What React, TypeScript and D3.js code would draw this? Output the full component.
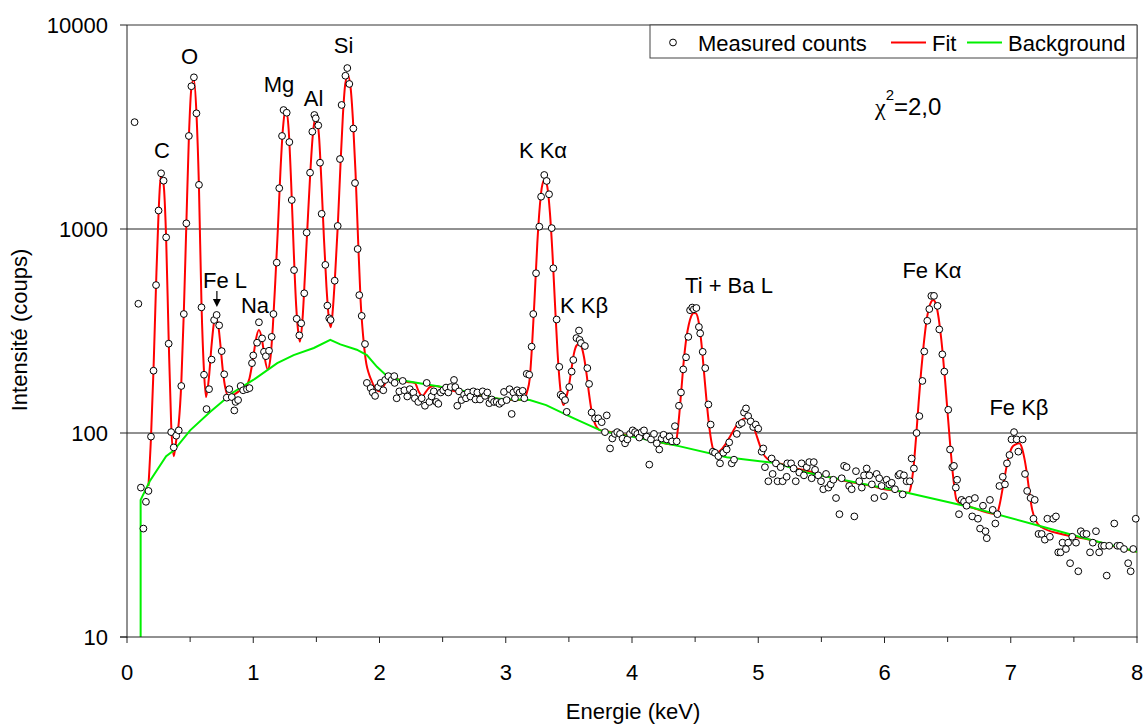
import React from "react";
import * as d3 from "d3";

// Measured counts: [energy keV, counts]
const measured: [number, number][] = [
  [0.06,3340],[0.09,430],[0.11,54],[0.13,34],[0.15,46],[0.17,52],[0.19,96],[0.21,202],[0.23,531],[0.25,1232],
  [0.27,1875],[0.29,1725],[0.31,910],[0.33,274],[0.35,101],[0.37,85],[0.39,97],[0.41,103],[0.43,170],[0.45,383],
  [0.47,1066],[0.49,2858],[0.51,5010],[0.53,5540],[0.55,3690],[0.57,1646],[0.59,413],[0.61,193],[0.63,131],[0.65,164],
  [0.67,229],[0.69,358],[0.71,379],[0.73,337],[0.75,252],[0.77,194],[0.79,149],[0.81,164],[0.83,150],[0.85,129],
  [0.86,142],[0.88,145],[0.90,170],[0.92,162],[0.95,164],[0.97,166],[0.99,220],[1.00,240],[1.03,277],[1.045,349],
  [1.07,291],[1.085,250],[1.10,238],[1.125,253],[1.146,296],[1.16,383],[1.186,684],[1.206,1585],[1.228,2858],[1.24,3830],
  [1.265,3715],[1.286,2667],[1.305,1387],[1.323,629],[1.344,363],[1.365,301],[1.38,345],[1.404,484],[1.423,960],[1.45,1888],
  [1.468,2999],[1.484,3622],[1.495,3490],[1.515,3220],[1.529,2113],[1.542,1187],[1.571,667],[1.587,421],[1.602,365],[1.613,358],
  [1.645,558],[1.669,1035],[1.687,2203],[1.70,4055],[1.73,5640],[1.745,6150],[1.761,5140],[1.793,3108],[1.806,1680],[1.827,798],
  [1.84,474],[1.859,375],[1.885,273],[1.90,176],[1.93,166],[1.946,158],[1.965,152],[1.99,168],[2.01,176],[2.03,162],
  [2.045,182],[2.07,190],[2.097,182],[2.117,190],[2.12,176],[2.136,148],[2.157,160],[2.184,180],[2.197,162],[2.22,151],
  [2.24,164],[2.268,158],[2.28,148],[2.307,142],[2.334,148],[2.36,136],[2.374,176],[2.395,142],[2.413,151],[2.43,160],
  [2.45,142],[2.466,139],[2.485,158],[2.505,162],[2.527,167],[2.545,158],[2.564,168],[2.59,182],[2.60,168],[2.616,136],
  [2.63,160],[2.65,145],[2.67,154],[2.685,148],[2.70,158],[2.72,151],[2.743,160],[2.76,146],[2.775,158],[2.796,146],
  [2.817,160],[2.836,152],[2.854,158],[2.87,140],[2.889,146],[2.907,142],[2.928,142],[2.95,139],[2.968,142],[2.986,159],
  [3.007,145],[3.03,164],[3.047,124],[3.06,158],[3.073,148],[3.09,162],[3.11,158],[3.134,161],[3.147,148],[3.166,195],
  [3.186,193],[3.205,265],[3.218,383],[3.24,607],[3.266,1027],[3.28,1440],[3.305,1840],[3.324,1720],[3.343,1480],[3.364,1010],
  [3.377,642],[3.403,360],[3.424,211],[3.435,154],[3.45,151],[3.47,145],[3.483,127],[3.503,168],[3.522,200],[3.535,228],
  [3.56,292],[3.58,318],[3.585,286],[3.596,276],[3.627,267],[3.646,208],[3.66,174],[3.68,126],[3.707,118],[3.733,118],
  [3.76,113],[3.786,101],[3.80,122],[3.826,84],[3.844,94],[3.865,99],[3.883,101],[3.905,99],[3.926,94],[3.945,89],
  [3.963,93],[3.984,99],[4.005,103],[4.024,101],[4.042,99],[4.058,95],[4.077,101],[4.095,103],[4.116,96],[4.137,70],
  [4.15,93],[4.174,99],[4.196,89],[4.216,83],[4.235,94],[4.25,98],[4.275,93],[4.296,96],[4.317,91],[4.34,108],
  [4.354,91],[4.372,136],[4.388,158],[4.406,205],[4.428,235],[4.446,296],[4.46,400],[4.477,412],[4.49,404],[4.51,410],
  [4.53,331],[4.54,308],[4.56,250],[4.58,208],[4.605,138],[4.623,110],[4.64,81],[4.657,80],[4.684,77],[4.697,71],
  [4.723,80],[4.75,83],[4.77,90],[4.79,71],[4.808,74],[4.83,99],[4.85,110],[4.87,112],[4.887,126],[4.903,132],
  [4.92,121],[4.94,114],[4.96,107],[4.98,110],[5.00,105],[5.027,81],[5.04,84],[5.053,68],[5.08,58],[5.106,75],
  [5.114,63],[5.14,71],[5.153,58],[5.177,68],[5.193,58],[5.225,61],[5.23,71],[5.26,71],[5.28,67],[5.297,58],
  [5.325,64],[5.343,71],[5.362,62],[5.384,68],[5.404,72],[5.423,60],[5.44,72],[5.45,66],[5.475,62],[5.497,58],
  [5.515,53],[5.537,63],[5.556,54],[5.574,56],[5.595,59],[5.616,48],[5.643,40],[5.661,60],[5.68,69],[5.70,68],
  [5.72,55],[5.74,53],[5.761,39],[5.774,65],[5.80,58],[5.82,54],[5.838,62],[5.859,67],[5.88,62],[5.90,56],
  [5.92,48],[5.938,63],[5.958,60],[5.977,55],[5.996,49],[6.017,59],[6.038,56],[6.057,57],[6.083,53],[6.11,62],
  [6.122,63],[6.144,50],[6.154,62],[6.175,58],[6.20,58],[6.215,75],[6.233,67],[6.254,100],[6.276,121],[6.30,180],
  [6.315,251],[6.339,355],[6.355,405],[6.371,470],[6.392,470],[6.42,420],[6.434,322],[6.458,243],[6.474,200],[6.505,130],
  [6.519,83],[6.537,68],[6.55,69],[6.565,54],[6.575,59],[6.59,40],[6.61,47],[6.63,46],[6.65,44],[6.67,47],
  [6.695,39],[6.716,48],[6.74,38],[6.757,34],[6.78,44],[6.80,33],[6.81,30.5],[6.835,47],[6.857,42],[6.878,36],
  [6.894,40],[6.91,55],[6.937,61],[6.954,56],[6.97,71],[6.99,78],[7.006,93],[7.026,101],[7.047,93],[7.06,81],
  [7.094,93],[7.113,63],[7.13,52],[7.157,48],[7.18,38],[7.19,47],[7.22,32],[7.245,32],[7.27,30],[7.29,38],
  [7.31,31],[7.337,38],[7.358,39],[7.376,26],[7.395,26],[7.41,29],[7.437,27],[7.455,29],[7.47,23],[7.487,31],
  [7.517,29],[7.535,21],[7.555,33],[7.575,32],[7.60,32],[7.628,26],[7.65,29],[7.675,33],[7.70,26],[7.72,28],
  [7.74,28],[7.76,20],[7.78,28],[7.82,36],[7.845,28],[7.865,28],[7.897,27],[7.93,23],[7.95,21],[7.97,27],
  [7.99,38],
];

// Fitted spectrum: [energy keV, counts]
const fitCurve: [number, number][] = [
  [0.17,55],[0.19,95],[0.21,205],[0.23,530],[0.25,1200],[0.27,1830],[0.29,1650],[0.31,900],[0.33,290],[0.35,110],
  [0.37,77],[0.39,92],[0.41,112],[0.43,175],[0.45,390],[0.47,1050],[0.49,2800],[0.51,4900],[0.53,5400],[0.55,3700],
  [0.57,1600],[0.59,430],[0.61,200],[0.626,150],[0.65,190],[0.67,270],[0.69,350],[0.70,365],[0.72,345],[0.74,270],
  [0.76,200],[0.78,165],[0.80,152],[0.83,152],[0.86,156],[0.90,162],[0.94,168],[0.97,185],[1.00,235],[1.02,285],
  [1.045,320],[1.07,285],[1.09,235],[1.115,205],[1.135,230],[1.155,330],[1.175,560],[1.195,1000],[1.215,1900],[1.235,3100],
  [1.25,3700],[1.265,3750],[1.28,3100],[1.30,1700],[1.32,800],[1.34,420],[1.36,300],[1.37,280],[1.39,360],[1.41,600],
  [1.43,1050],[1.45,1800],[1.47,2800],[1.49,3450],[1.50,3500],[1.52,2900],[1.54,1700],[1.56,900],[1.58,520],[1.60,360],
  [1.615,330],[1.63,400],[1.65,620],[1.67,1050],[1.69,2000],[1.71,3600],[1.73,5200],[1.75,5650],[1.77,5000],[1.79,3400],
  [1.81,1900],[1.83,900],[1.85,450],[1.87,300],[1.89,230],[1.93,185],[1.97,165],[2.00,160],[2.03,168],[2.06,182],
  [2.09,188],[2.15,183],[2.22,178],[2.28,176],[2.31,160],[2.34,152],[2.37,160],[2.40,168],[2.44,170],[2.50,167],
  [2.55,163],[2.60,160],[2.65,157],[2.70,160],[2.80,153],[2.90,148],[3.00,146],[3.10,145],[3.15,148],[3.17,160],
  [3.19,185],[3.21,280],[3.23,480],[3.25,850],[3.27,1300],[3.29,1650],[3.31,1750],[3.33,1600],[3.35,1200],[3.37,760],
  [3.39,430],[3.41,250],[3.43,170],[3.457,137],[3.48,150],[3.50,170],[3.52,205],[3.54,245],[3.56,268],[3.583,275],
  [3.60,265],[3.62,235],[3.64,195],[3.66,155],[3.68,128],[3.70,114],[3.72,107],[3.75,103],[3.80,102],[3.90,99],
  [4.00,97],[4.10,94],[4.20,91],[4.30,88],[4.35,92],[4.37,115],[4.39,160],[4.41,225],[4.43,290],[4.45,340],
  [4.47,375],[4.49,388],[4.507,386],[4.53,345],[4.55,275],[4.57,200],[4.59,145],[4.61,110],[4.63,90],[4.65,81],
  [4.67,80],[4.70,82],[4.74,88],[4.78,97],[4.82,107],[4.86,115],[4.90,118],[4.92,118],[4.95,112],[4.98,100],
  [5.01,88],[5.04,79],[5.07,75],[5.10,73],[5.20,70],[5.30,67],[5.40,65],[5.50,62],[5.60,60],[5.70,58],
  [5.80,56.5],[5.90,55],[6.00,53],[6.10,52],[6.19,51],[6.21,55],[6.23,68],[6.25,95],[6.27,140],[6.29,200],
  [6.31,270],[6.33,345],[6.35,405],[6.37,440],[6.386,449],[6.40,440],[6.42,395],[6.44,325],[6.46,250],[6.48,180],
  [6.50,125],[6.52,88],[6.545,60],[6.57,47],[6.60,45],[6.70,43],[6.80,41],[6.889,40],[6.91,44],[6.93,51],
  [6.95,60],[6.97,70],[6.99,79],[7.01,85],[7.04,88],[7.067,89],[7.09,84],[7.11,74],[7.13,62],[7.15,50],
  [7.17,42],[7.20,37],[7.245,34.5],[7.40,32],[7.628,30],[7.80,28],[8.02,26],
];

// Background: [energy keV, counts]
const background: [number, number][] = [
  [0.108,10],[0.108,47],[0.18,58],[0.31,77],[0.37,82],[0.50,103],[0.66,127],[0.84,158],[1.00,182],[1.19,220],
  [1.32,241],[1.48,261],[1.61,286],[1.69,272],[1.82,256],[1.90,241],[1.98,211],[2.06,190],[2.16,182],[2.45,170],
  [2.69,160],[2.95,147],[3.19,145],[3.32,137],[3.54,118],[3.75,103],[4.38,86],[4.75,76],[5.15,71],[5.38,64],
  [6.18,51],[6.70,43],[7.23,35],[7.63,30],[8.02,26],
];

const xTicks = [0, 1, 2, 3, 4, 5, 6, 7, 8];
const xMinorTicks = [0.5, 1.5, 2.5, 3.5, 4.5, 5.5, 6.5, 7.5];
const yTicks = [10, 100, 1000, 10000];
const yGrid = [100, 1000];

// peak annotations: label, energy (centre), counts at text baseline
const peakLabels: { text: string; e: number; v: number }[] = [
  { text: "C", e: 0.277, v: 2230 },
  { text: "O", e: 0.495, v: 6440 },
  { text: "Mg", e: 1.204, v: 4700 },
  { text: "Al", e: 1.478, v: 4010 },
  { text: "Si", e: 1.715, v: 7300 },
  { text: "Fe L", e: 0.776, v: 514 },
  { text: "Na", e: 1.014, v: 387 },
  { text: "K Kα", e: 3.295, v: 2230 },
  { text: "K Kβ", e: 3.62, v: 387 },
  { text: "Ti + Ba L", e: 4.768, v: 485 },
  { text: "Fe Kα", e: 6.376, v: 575 },
  { text: "Fe Kβ", e: 7.065, v: 122 },
];
const feLArrow = { e: 0.712, tip: 415 };

const FONT = "'Liberation Sans', Arial, sans-serif";

export default function App() {
  const W = 1146, H = 725;
  const left = 127, right = 1137, top = 25, bottom = 637;
  const x = d3.scaleLinear().domain([0, 8]).range([left, right]);
  const y = d3.scaleLog().domain([10, 10000]).range([bottom, top]);

  const fitLine = d3.line<[number, number]>()
    .x((d) => x(d[0]))
    .y((d) => y(d[1]))
    .curve(d3.curveMonotoneX);
  const bgLine = d3.line<[number, number]>()
    .x((d) => x(d[0]))
    .y((d) => y(d[1]));

  const ax = x(feLArrow.e);
  const at = y(feLArrow.tip);

  return (
    <svg width={W} height={H} style={{ position: "absolute", left: 0, top: 0, background: "#fff" }} fontFamily={FONT}>
      <defs>
        <clipPath id="plotClip">
          <rect x={left} y={top - 5} width={right - left} height={bottom - top + 5} />
        </clipPath>
      </defs>
      <rect x={0} y={0} width={W} height={H} fill="#fff" />

      {/* grid lines and frame */}
      {yGrid.map((v) => (
        <line key={v} x1={left} x2={right} y1={y(v)} y2={y(v)} stroke="#222" strokeWidth={1} />
      ))}
      <line x1={left} x2={right} y1={top} y2={top} stroke="#333" strokeWidth={1} />
      <line x1={right} x2={right} y1={top} y2={bottom} stroke="#666" strokeWidth={1.3} />

      {/* curves */}
      <g clipPath="url(#plotClip)">
        <path d={fitLine(fitCurve) || ""} fill="none" stroke="#ff0000" strokeWidth={2} />
        <path d={bgLine(background) || ""} fill="none" stroke="#00f000" strokeWidth={2} />
      </g>

      {/* measured points */}
      <g>
        {measured.map((d, i) => (
          <circle key={i} cx={x(d[0])} cy={y(d[1])} r={3.4} fill="#fff" stroke="#000" strokeWidth={1} />
        ))}
      </g>

      {/* axes */}
      <line x1={left} x2={left} y1={top} y2={bottom + 0.5} stroke="#222" strokeWidth={1} />
      <line x1={left - 7} x2={right + 0.5} y1={bottom} y2={bottom} stroke="#222" strokeWidth={1} />
      {yTicks.map((v) => (
        <g key={v}>
          <line x1={left - 7} x2={left} y1={y(v)} y2={y(v)} stroke="#222" />
          <text x={108} y={y(v)} dy="0.36em" textAnchor="end" fontSize={22} fill="#000">{v}</text>
        </g>
      ))}
      {xTicks.map((v) => (
        <g key={v}>
          <line x1={x(v)} x2={x(v)} y1={bottom} y2={bottom + 6} stroke="#222" />
          <text x={x(v)} y={680} textAnchor="middle" fontSize={22} fill="#000">{v}</text>
        </g>
      ))}
      {xMinorTicks.map((v) => (
        <line key={v} x1={x(v)} x2={x(v)} y1={bottom} y2={bottom + 5} stroke="#222" />
      ))}

      {/* axis titles */}
      <text x={633} y={719} textAnchor="middle" fontSize={22} fill="#000">Energie (keV)</text>
      <text transform={`translate(27,330) rotate(-90)`} textAnchor="middle" fontSize={22} fill="#000">Intensité (coups)</text>

      {/* peak labels */}
      {peakLabels.map((p) => (
        <text key={p.text} x={x(p.e)} y={y(p.v)} textAnchor="middle" fontSize={22} fill="#000">{p.text}</text>
      ))}
      <line x1={ax} x2={ax} y1={at - 16} y2={at - 6} stroke="#000" strokeWidth={1.2} />
      <path d={`M${ax - 4},${at - 8} L${ax + 4},${at - 8} L${ax},${at} Z`} fill="#000" />

      {/* chi2 */}
      <text x={875} y={115} fontSize={24} fill="#000">
        <tspan fontFamily="'Liberation Serif', 'DejaVu Serif', serif">χ</tspan>
        <tspan dy={-15} fontSize={15}>2</tspan>
        <tspan dy={15}>=2,0</tspan>
      </text>

      {/* legend */}
      <rect x={650} y={top} width={right - 650} height={33} fill="#fff" stroke="#444" strokeWidth={1} />
      <circle cx={673} cy={42.5} r={3.4} fill="#fff" stroke="#000" />
      <text x={698} y={50.5} fontSize={22} fill="#000">Measured counts</text>
      <line x1={891} x2={926} y1={42.5} y2={42.5} stroke="#ff0000" strokeWidth={2} />
      <text x={932} y={50.5} fontSize={22} fill="#000">Fit</text>
      <line x1={967} x2={1002} y1={42.5} y2={42.5} stroke="#00f000" strokeWidth={2} />
      <text x={1008} y={50.5} fontSize={22} fill="#000">Background</text>
    </svg>
  );
}
